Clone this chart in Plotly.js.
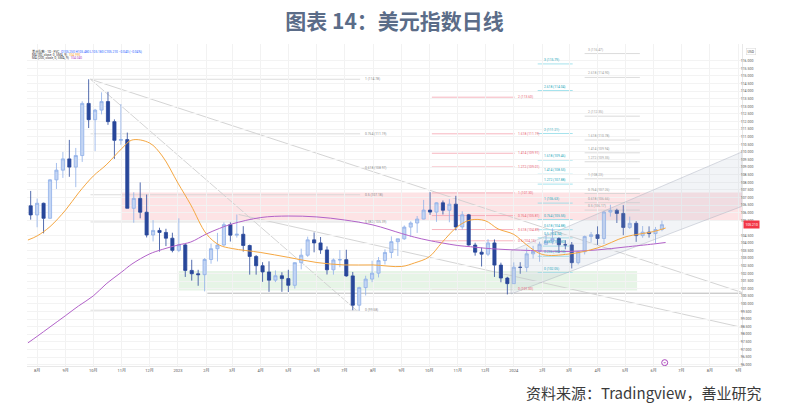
<!DOCTYPE html>
<html><head><meta charset="utf-8">
<script src="https://cdn.plot.ly/plotly-3.0.1.min.js"></script>
<style>html,body{margin:0;padding:0;background:#fff;}#chart{width:789px;height:416px;}</style>
</head><body><div id="chart"></div>
<script>
// ---- weekly OHLC of the US dollar index ----
const weekStart = ['2022-07-25','2022-08-01','2022-08-08','2022-08-15','2022-08-22','2022-08-29','2022-09-05','2022-09-12','2022-09-19','2022-09-26',
'2022-10-03','2022-10-10','2022-10-17','2022-10-24','2022-10-31','2022-11-07','2022-11-14','2022-11-21','2022-11-28','2022-12-05',
'2022-12-12','2022-12-19','2022-12-26','2023-01-02','2023-01-09','2023-01-16','2023-01-23','2023-01-30','2023-02-06','2023-02-13',
'2023-02-20','2023-02-27','2023-03-06','2023-03-13','2023-03-20','2023-03-27','2023-04-03','2023-04-10','2023-04-17','2023-04-24',
'2023-05-01','2023-05-08','2023-05-15','2023-05-22','2023-05-29','2023-06-05','2023-06-12','2023-06-19','2023-06-26','2023-07-03',
'2023-07-10','2023-07-17','2023-07-24','2023-07-31','2023-08-07','2023-08-14','2023-08-21','2023-08-28','2023-09-04','2023-09-11',
'2023-09-18','2023-09-25','2023-10-02','2023-10-09','2023-10-16','2023-10-23','2023-10-30','2023-11-06','2023-11-13','2023-11-20',
'2023-11-27','2023-12-04','2023-12-11','2023-12-18','2023-12-25','2024-01-01','2024-01-08','2024-01-15','2024-01-22','2024-01-29',
'2024-02-05','2024-02-12','2024-02-19','2024-02-26','2024-03-04','2024-03-11','2024-03-18','2024-03-25','2024-04-01','2024-04-08',
'2024-04-15','2024-04-22','2024-04-29','2024-05-06','2024-05-13','2024-05-20','2024-05-27','2024-06-03','2024-06-10'];
const wOpen = [106.45,105.85,106.62,105.63,108.16,108.80,109.54,109.00,109.76,113.19,
112.12,112.75,113.31,111.99,110.76,110.81,106.29,106.94,106.03,104.53,
104.83,104.70,104.32,103.52,103.88,102.20,101.98,101.92,102.92,103.63,
103.87,105.21,104.52,104.58,103.84,103.12,102.51,102.10,101.56,101.85,
101.66,101.22,102.71,103.20,104.21,104.01,103.55,102.24,102.89,102.91,
101.84,99.91,101.07,101.63,102.02,102.85,103.38,104.09,104.28,105.05,
105.32,105.58,106.17,106.04,106.65,106.16,106.56,105.06,105.86,103.87,
103.40,103.27,104.01,102.55,101.70,101.33,102.41,102.40,103.29,103.45,
103.92,104.12,104.30,103.89,103.88,102.71,103.43,104.43,104.55,104.30,
106.04,106.15,105.95,105.03,105.30,104.49,104.72,104.62,104.89];
const wHigh = [107.43,106.93,106.66,108.20,109.27,109.99,110.79,110.26,113.33,114.78,
112.83,113.92,113.95,112.14,113.15,111.27,107.34,107.99,107.19,105.51,
105.01,104.94,104.68,105.63,103.95,102.90,102.24,103.01,103.96,104.67,
105.36,105.36,105.88,105.11,103.90,103.21,102.74,102.80,102.20,102.08,
102.24,102.73,103.63,104.42,104.70,104.40,103.78,102.99,103.54,103.56,
102.10,101.13,101.85,102.84,103.08,103.59,104.44,104.27,105.16,105.43,
105.78,106.84,107.35,106.68,106.80,106.89,107.11,106.09,105.92,104.02,
103.70,104.26,104.24,102.71,101.78,102.73,102.74,103.69,103.82,104.09,
104.60,104.97,104.38,104.19,104.07,103.47,104.49,104.73,105.10,106.12,
106.52,106.26,106.49,105.74,105.44,105.12,105.10,105.06,105.48];
const wLow = [105.54,105.04,104.64,105.61,107.56,108.29,108.36,107.68,109.34,111.57,
110.05,112.47,111.78,109.54,110.47,106.28,105.34,105.63,104.37,104.11,
103.44,103.80,103.39,103.40,101.77,101.53,101.19,100.82,102.64,102.79,
103.82,104.10,104.36,103.44,101.92,101.92,101.45,100.79,101.43,100.79,
100.78,101.01,102.27,103.09,103.39,103.29,101.93,101.92,102.41,101.78,
99.58,99.55,100.55,101.43,101.74,102.59,103.01,103.15,104.21,104.42,
104.67,105.56,105.86,105.40,105.88,105.37,104.84,104.88,103.83,103.17,
102.46,103.14,101.77,101.42,100.62,101.33,101.98,102.10,102.98,102.77,
103.92,103.92,103.35,103.59,102.33,102.59,103.25,104.05,103.88,103.94,
105.74,105.32,104.52,104.93,104.08,104.35,104.36,103.99,104.78];
const wClose = [105.85,106.62,105.63,108.16,108.80,109.54,109.00,109.76,113.19,112.12,
112.75,113.31,111.99,110.76,110.81,106.29,106.94,106.03,104.53,104.83,
104.70,104.32,103.52,103.88,102.20,101.98,101.92,102.92,103.63,103.87,
105.21,104.52,104.58,103.84,103.12,102.51,102.10,101.56,101.85,101.66,
101.22,102.71,103.20,104.21,104.01,103.55,102.24,102.89,102.91,101.84,
99.91,101.07,101.63,102.02,102.85,103.38,104.09,104.28,105.05,105.32,
105.58,106.17,106.04,106.65,106.16,106.56,105.06,105.86,103.87,103.40,
103.27,104.01,102.55,101.70,101.33,102.41,102.40,103.29,103.45,103.92,
104.12,104.30,103.89,103.88,102.71,103.43,104.43,104.55,104.30,106.04,
106.15,105.95,105.03,105.30,104.49,104.72,104.62,104.89,105.21];

// ---- moving averages ----
const maDates = ['2022-07-22','2022-08-01','2022-08-15','2022-09-01','2022-09-15','2022-10-01','2022-10-15','2022-11-01','2022-11-12','2022-12-01',
'2022-12-15','2023-01-01','2023-01-15','2023-02-01','2023-02-15','2023-03-01','2023-04-01','2023-05-01','2023-06-01','2023-07-01',
'2023-08-01','2023-09-01','2023-09-15','2023-10-01','2023-10-15','2023-11-01','2023-11-15','2023-12-01','2023-12-15','2024-01-01',
'2024-01-15','2024-02-01','2024-03-01','2024-04-01','2024-05-01','2024-06-01','2024-06-14'];
const ma50 = [104.20,104.47,105.08,106.18,107.30,108.41,109.14,110.22,110.78,110.59,
109.73,107.95,106.51,104.60,103.87,103.64,103.38,103.06,102.72,102.56,
102.56,102.46,102.69,103.09,104.04,105.09,105.52,105.47,104.93,104.57,
103.88,103.25,103.28,103.68,104.40,104.76,104.99];
const ma200 = [97.43,97.86,98.48,99.23,99.86,100.52,101.31,102.10,102.62,103.28,
103.58,103.87,104.07,104.60,104.96,105.26,105.68,105.78,105.72,105.52,
105.19,104.63,104.39,104.17,104.01,103.84,103.76,103.66,103.60,103.55,
103.52,103.48,103.45,103.55,103.74,103.94,104.04];

// ---- axis ticks ----
const monthTicks = ['2022-08-01','2022-09-01','2022-10-01','2022-11-01','2022-12-01','2023-01-01','2023-02-01','2023-03-01','2023-04-01','2023-05-01',
'2023-06-01','2023-07-01','2023-08-01','2023-09-01','2023-10-01','2023-11-01','2023-12-01','2024-01-01','2024-02-01','2024-03-01',
'2024-04-01','2024-05-01','2024-06-01','2024-07-01','2024-08-01','2024-09-01'];
const monthLabels = ['8月','9月','10月','11月','12月','2023','2月','3月','4月','5月','6月','7月','8月','9月','10月','11月','12月','2024','2月','3月','4月','5月','6月','7月','8月','9月'];
const priceTicks = [96.0,96.5,97.0,97.5,98.0,98.5,99.0,99.5,100.0,100.5,101.0,101.5,102.0,102.5,103.0,103.5,104.0,104.5,
105.5,106.0,106.5,107.0,107.5,108.0,108.5,109.0,109.5,110.0,110.5,111.0,111.5,112.0,112.5,113.0,113.5,114.0,114.5,115.0,115.5,116.0];

// ---- drawings (dates / prices) ----
const redZoneDates = ['2022-10-31','2024-09-05'];
const redZonePrices = [105.52, 107.32];
const greenZoneDates = ['2023-01-02','2024-05-14'];
const greenZonePrices = [100.88, 102.16];
const supportDates = ['2023-02-02','2024-09-05'];
const supportPrice = 100.70;
const trendStartDates = ['2022-09-28','2022-09-28','2023-03-08'];
const trendStartPrices = [114.78, 114.78, 105.88];
const trendEndDates = ['2024-09-05','2023-07-14','2024-09-05'];
const trendEndPrices = [100.75, 99.58, 98.45];
const channelDates = ['2023-12-29','2024-09-05','2024-09-05','2023-12-29','2023-12-29'];
const channelPrices = [103.48, 110.00, 106.42, 100.65, 103.48];

const fibMainLevels = [0, 0.382, 0.5, 0.618, 0.764, 1];
const fibMainPrices = [99.58, 105.39, 107.18, 108.97, 111.19, 114.78];
const fibMainDates = ['2022-09-28','2023-07-18','2023-07-21'];
const fibALevels = [0, 0.5, 0.618, 0.764, 1, 1.272, 1.414, 1.618, 2];
const fibAPrices = [101.00, 104.15, 104.89, 105.81, 107.30, 109.01, 109.91, 111.19, 113.60];
const fibADates = ['2023-10-04','2024-01-02','2024-01-03'];
const fibBLevels = [0, 0.236, 0.382, 0.5, 0.618, 0.764, 1, 1.272, 1.414, 1.618, 2, 2.618, 3];
const fibBPrices = [102.05, 103.13, 103.80, 104.34, 104.88, 105.55, 106.63, 107.88, 108.53, 109.46, 111.21, 114.04, 115.79];
const fibBDates = ['2024-01-27','2024-03-05','2024-02-01'];
const fibCLevels = [0.5, 0.618, 0.764, 1, 1.272, 1.414, 1.618, 2, 2.618, 3];
const fibCPrices = [106.17, 106.66, 107.26, 108.23, 109.35, 109.94, 110.78, 112.35, 114.90, 116.47];
const fibCDates = ['2024-03-18','2024-05-17','2024-03-19'];

const lastPrice = 105.21;
const eventDates = ['2024-06-13'];
const eventLevel = [96.13];

// ---------------- build ----------------
const shapes = [];
const annotations = [];
const small = {family:'Roboto, DejaVu Sans, sans-serif', size:4};
const fibFont = {family:'Roboto, DejaVu Sans, sans-serif', size:3.3};

shapes.push({type:'rect', xref:'x', yref:'y', x0:redZoneDates[0], x1:redZoneDates[1], y0:redZonePrices[0], y1:redZonePrices[1],
  fillcolor:'rgba(242,54,69,0.14)', line:{width:0}, layer:'below'});
shapes.push({type:'rect', xref:'x', yref:'y', x0:greenZoneDates[0], x1:greenZoneDates[1], y0:greenZonePrices[0], y1:greenZonePrices[1],
  fillcolor:'rgba(76,175,80,0.14)', line:{width:0}, layer:'below'});
shapes.push({type:'line', xref:'x', yref:'y', x0:supportDates[0], x1:supportDates[1], y0:supportPrice, y1:supportPrice,
  line:{color:'#b9b9b9', width:1}, layer:'below'});
for (let i=0;i<trendStartDates.length;i++){
  shapes.push({type:'line', xref:'x', yref:'y', x0:trendStartDates[i], y0:trendStartPrices[i], x1:trendEndDates[i], y1:trendEndPrices[i],
    line:{color:'#cfcfcf', width:0.9}, layer:'below'});
}
function addFib(levels, prices, dates, lineColor, textColor, yanchor){
  for (let i=0;i<levels.length;i++){
    shapes.push({type:'line', xref:'x', yref:'y', x0:dates[0], x1:dates[1], y0:prices[i], y1:prices[i],
      line:{color:lineColor, width:0.8}, layer:'below'});
    annotations.push({xref:'x', yref:'y', x:dates[2], y:prices[i], xanchor:'left', yanchor:yanchor,
      text: levels[i] + ' (' + prices[i].toFixed(2) + ')', showarrow:false, font:{...fibFont, color:textColor}});
  }
}
addFib(fibMainLevels, fibMainPrices, fibMainDates, '#d4d4d4', '#8a8a8a', 'middle');
addFib(fibALevels, fibAPrices, fibADates, '#f5a3b0', '#e8606f', 'middle');
addFib(fibBLevels, fibBPrices, fibBDates, '#8fdce8', '#22a5b8', 'bottom');
addFib(fibCLevels, fibCPrices, fibCDates, '#d2d2d2', '#9a9a9a', 'bottom');

// legend lines (top-left)
const legendFont = {family:'Roboto, Noto Sans CJK SC, sans-serif', size:3.2, color:'#333'};
annotations.push({xref:'paper', yref:'paper', x:0.004, y:0.976, xanchor:'left', yanchor:'middle', showarrow:false, font:legendFont,
  text:'美元指数 · 1D · FVC  <span style="color:#2962ff">O105.250 H105.480 L105.180 C' + lastPrice.toFixed(3) + ' −0.040 (−0.04%)</span>'});
annotations.push({xref:'paper', yref:'paper', x:0.004, y:0.967, xanchor:'left', yanchor:'middle', showarrow:false, font:legendFont,
  text:'MA (50, close, 0, SMA, 9)  <span style="color:#f59a23">' + ma50[ma50.length-1].toFixed(3) + '</span>'});
annotations.push({xref:'paper', yref:'paper', x:0.004, y:0.958, xanchor:'left', yanchor:'middle', showarrow:false, font:legendFont,
  text:'MA (200, close, 0, SMA, 9)  <span style="color:#ab47bc">' + ma200[ma200.length-1].toFixed(3) + '</span>'});
// price scale extras
annotations.push({xref:'paper', yref:'paper', x:1.0126, y:0.978, xanchor:'center', yanchor:'middle', showarrow:false,
  text:'USD', font:{...small, size:3.4, color:'#444'}, bordercolor:'#dcdcdc', borderwidth:0.6, borderpad:1, bgcolor:'#fff'});
annotations.push({xref:'paper', yref:'y', x:1.0126, y:lastPrice, xanchor:'center', yanchor:'middle', showarrow:false,
  text:lastPrice.toFixed(3), font:{...small, size:3.4, color:'#fff'}, bgcolor:'#f23645', borderpad:1.5});
// source line
annotations.push({xref:'paper', yref:'paper', x:1.03, y:-0.081, xanchor:'right', yanchor:'middle', showarrow:false,
  text:'资料来源：Tradingview，善业研究', font:{family:'Noto Sans CJK SC, sans-serif', size:15, color:'#3a3a3a'}});

const traces = [
  {type:'scatter', mode:'lines', x:channelDates, y:channelPrices, fill:'toself', fillcolor:'rgba(176,186,204,0.16)',
   line:{color:'rgba(170,178,192,0.6)', width:0.8}, hoverinfo:'skip'},
  {type:'scatter', mode:'lines', x:maDates, y:ma200, line:{color:'#b262c9', width:1, shape:'spline', smoothing:1}, hoverinfo:'skip'},
  {type:'scatter', mode:'lines', x:maDates, y:ma50, line:{color:'#f5a742', width:1, shape:'spline', smoothing:1}, hoverinfo:'skip'},
  {type:'candlestick', x:weekStart, open:wOpen, high:wHigh, low:wLow, close:wClose,
   increasing:{line:{color:'#8fb0e8', width:0.8}, fillcolor:'#c3d5f4'},
   decreasing:{line:{color:'#28479a', width:0.8}, fillcolor:'#28479a'}, whiskerwidth:0, hoverinfo:'skip'},
  {type:'scatter', mode:'markers', x:eventDates, y:eventLevel, marker:{symbol:'circle-open-dot', size:6, color:'#ab47bc', line:{width:1}}, hoverinfo:'skip'}
];

const layout = {
  width:789, height:416,
  margin:{l:27, r:47, t:44, b:50},
  paper_bgcolor:'#fff', plot_bgcolor:'#fff',
  showlegend:false, hovermode:false,
  title:{text:'图表 14：美元指数日线', x:0.5, xref:'container', y:0.947, yref:'container', yanchor:'middle',
         font:{family:'Noto Sans CJK SC, sans-serif', size:21, color:'#5b6c88', weight:'bold'}},
  xaxis:{type:'date', range:['2022-07-21','2024-09-05'], rangeslider:{visible:false},
         tickmode:'array', tickvals:monthTicks, ticktext:monthLabels,
         showgrid:true, gridcolor:'#f2f2f2', gridwidth:1, zeroline:false,
         showline:true, linecolor:'#e8e8e8', ticks:'', ticklen:0,
         tickfont:{family:'Roboto, Noto Sans CJK SC, sans-serif', size:4, color:'#555'}},
  yaxis:{side:'right', range:[95.91, 117.10], tickmode:'array', tickvals:priceTicks, tickformat:'.3f',
         showgrid:true, gridcolor:'#f3f3f3', gridwidth:1, zeroline:false,
         showline:true, linecolor:'#e8e8e8', ticks:'', ticklen:0, ticklabelstandoff:-3,
         tickfont:{family:'Roboto, sans-serif', size:3.5, color:'#555'}},
  shapes:shapes, annotations:annotations
};
Plotly.newPlot('chart', traces, layout, {displayModeBar:false, staticPlot:true});
</script></body></html>
